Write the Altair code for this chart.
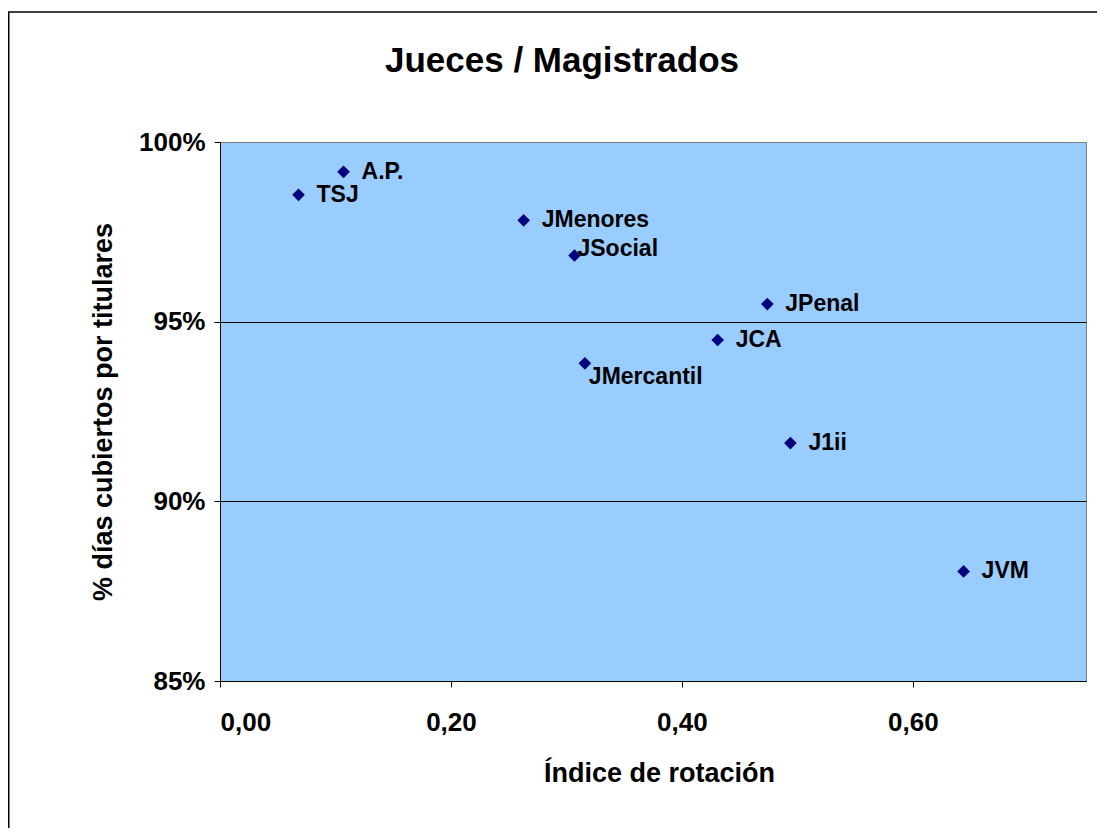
import altair as alt
import pandas as pd

TITLE = "Jueces / Magistrados"
X_TITLE = "Índice de rotación"
Y_TITLE = "% días cubiertos por titulares"
NAMES = ["TSJ", "A.P.", "JMenores", "JSocial", "JMercantil", "JPenal", "JCA", "J1ii", "JVM"]
ROTATION = [0.068, 0.107, 0.263, 0.307, 0.316, 0.474, 0.431, 0.494, 0.644]
COVERED = [98.53, 99.17, 97.82, 96.84, 93.84, 95.49, 94.49, 91.62, 88.05]
X_TICKS = [0, 0.2, 0.4, 0.6]
Y_TICKS = [85, 90, 95, 100]

df = pd.DataFrame({"name": NAMES, "x": ROTATION, "y": COVERED})

FONT = "Liberation Sans"
W, H = 866, 539

x_enc = alt.X(
    "x:Q",
    scale=alt.Scale(domain=[0, 0.75], nice=False, zero=False),
    axis=alt.Axis(
        values=X_TICKS,
        labelExpr="replace(format(datum.value, '.2f'), '.', ',')",
        title=X_TITLE,
        grid=False,
        domainColor="#000000",
        tickColor="#000000",
        tickSize=6,
        labelFont=FONT, labelFontSize=26, labelFontWeight="bold", labelColor="#000000",
        labelBaseline="alphabetic", labelPadding=43,
        titleFont=FONT, titleFontSize=27, titleFontWeight="bold", titleColor="#000000",
        titleX=439, titleY=100, titleBaseline="alphabetic", titleAlign="center",
    ),
)
y_enc = alt.Y(
    "y:Q",
    scale=alt.Scale(domain=[85, 100], nice=False, zero=False),
    axis=alt.Axis(
        values=Y_TICKS,
        labelExpr="datum.value + '%'",
        title=Y_TITLE,
        grid=True,
        gridColor={"condition": {"test": "datum.value >= 100", "value": "#808080"}, "value": "#000000"},
        gridWidth=1,
        domainColor="#000000",
        tickColor="#000000",
        tickSize=6,
        labelFont=FONT, labelFontSize=26, labelFontWeight="bold", labelColor="#000000",
        labelPadding=9,
        titleFont=FONT, titleFontSize=27, titleFontWeight="bold", titleColor="#000000",
        titleAngle=270, titleX=-109, titleY=H / 2, titleBaseline="alphabetic", titleAlign="center",
    ),
)

base = alt.Chart(df)

points = base.mark_point(shape="diamond", filled=True, color="#000080", size=160, opacity=1).encode(
    x=x_enc, y=y_enc
)

text_style = dict(align="left", baseline="middle", font=FONT, fontSize=23, fontWeight="bold", color="#000000")

labels = base.mark_text(dx=18, **text_style).encode(
    x="x:Q", y="y:Q", text="name:N"
).transform_filter("datum.name != 'JSocial' && datum.name != 'JMercantil'")

label_social = base.mark_text(dx=3, dy=-7, **text_style).encode(
    x="x:Q", y="y:Q", text="name:N"
).transform_filter("datum.name == 'JSocial'")

label_merc = base.mark_text(dx=4, dy=14, **text_style).encode(
    x="x:Q", y="y:Q", text="name:N"
).transform_filter("datum.name == 'JMercantil'")

title = alt.Chart(alt.Data(values=[{"t": TITLE}])).mark_text(
    align="center", baseline="alphabetic", font=FONT, fontSize=35, fontWeight="bold", color="#000000"
).encode(x=alt.value(342), y=alt.value(-70), text="t:N")

border = alt.Chart(alt.Data(values=[{"b": 1}])).mark_rect(
    fill="#ffffff", fillOpacity=0, stroke="#000000", strokeWidth=1.5
).encode(
    x=alt.value(-211.25), x2=alt.value(W + 60), y=alt.value(-130), y2=alt.value(H + 300)
)

chart = alt.layer(points, labels, label_social, label_merc, title, border).properties(
    width=W,
    height=H,
    autosize=alt.AutoSizeParams(type="none"),
    padding={"left": 212, "top": 134, "right": 11, "bottom": 147},
    background="#ffffff",
).configure_view(
    fill="#99CCFF", stroke="#808080", strokeWidth=1
)

chart.save("out.html", embed_options={"renderer": "svg", "actions": False})
